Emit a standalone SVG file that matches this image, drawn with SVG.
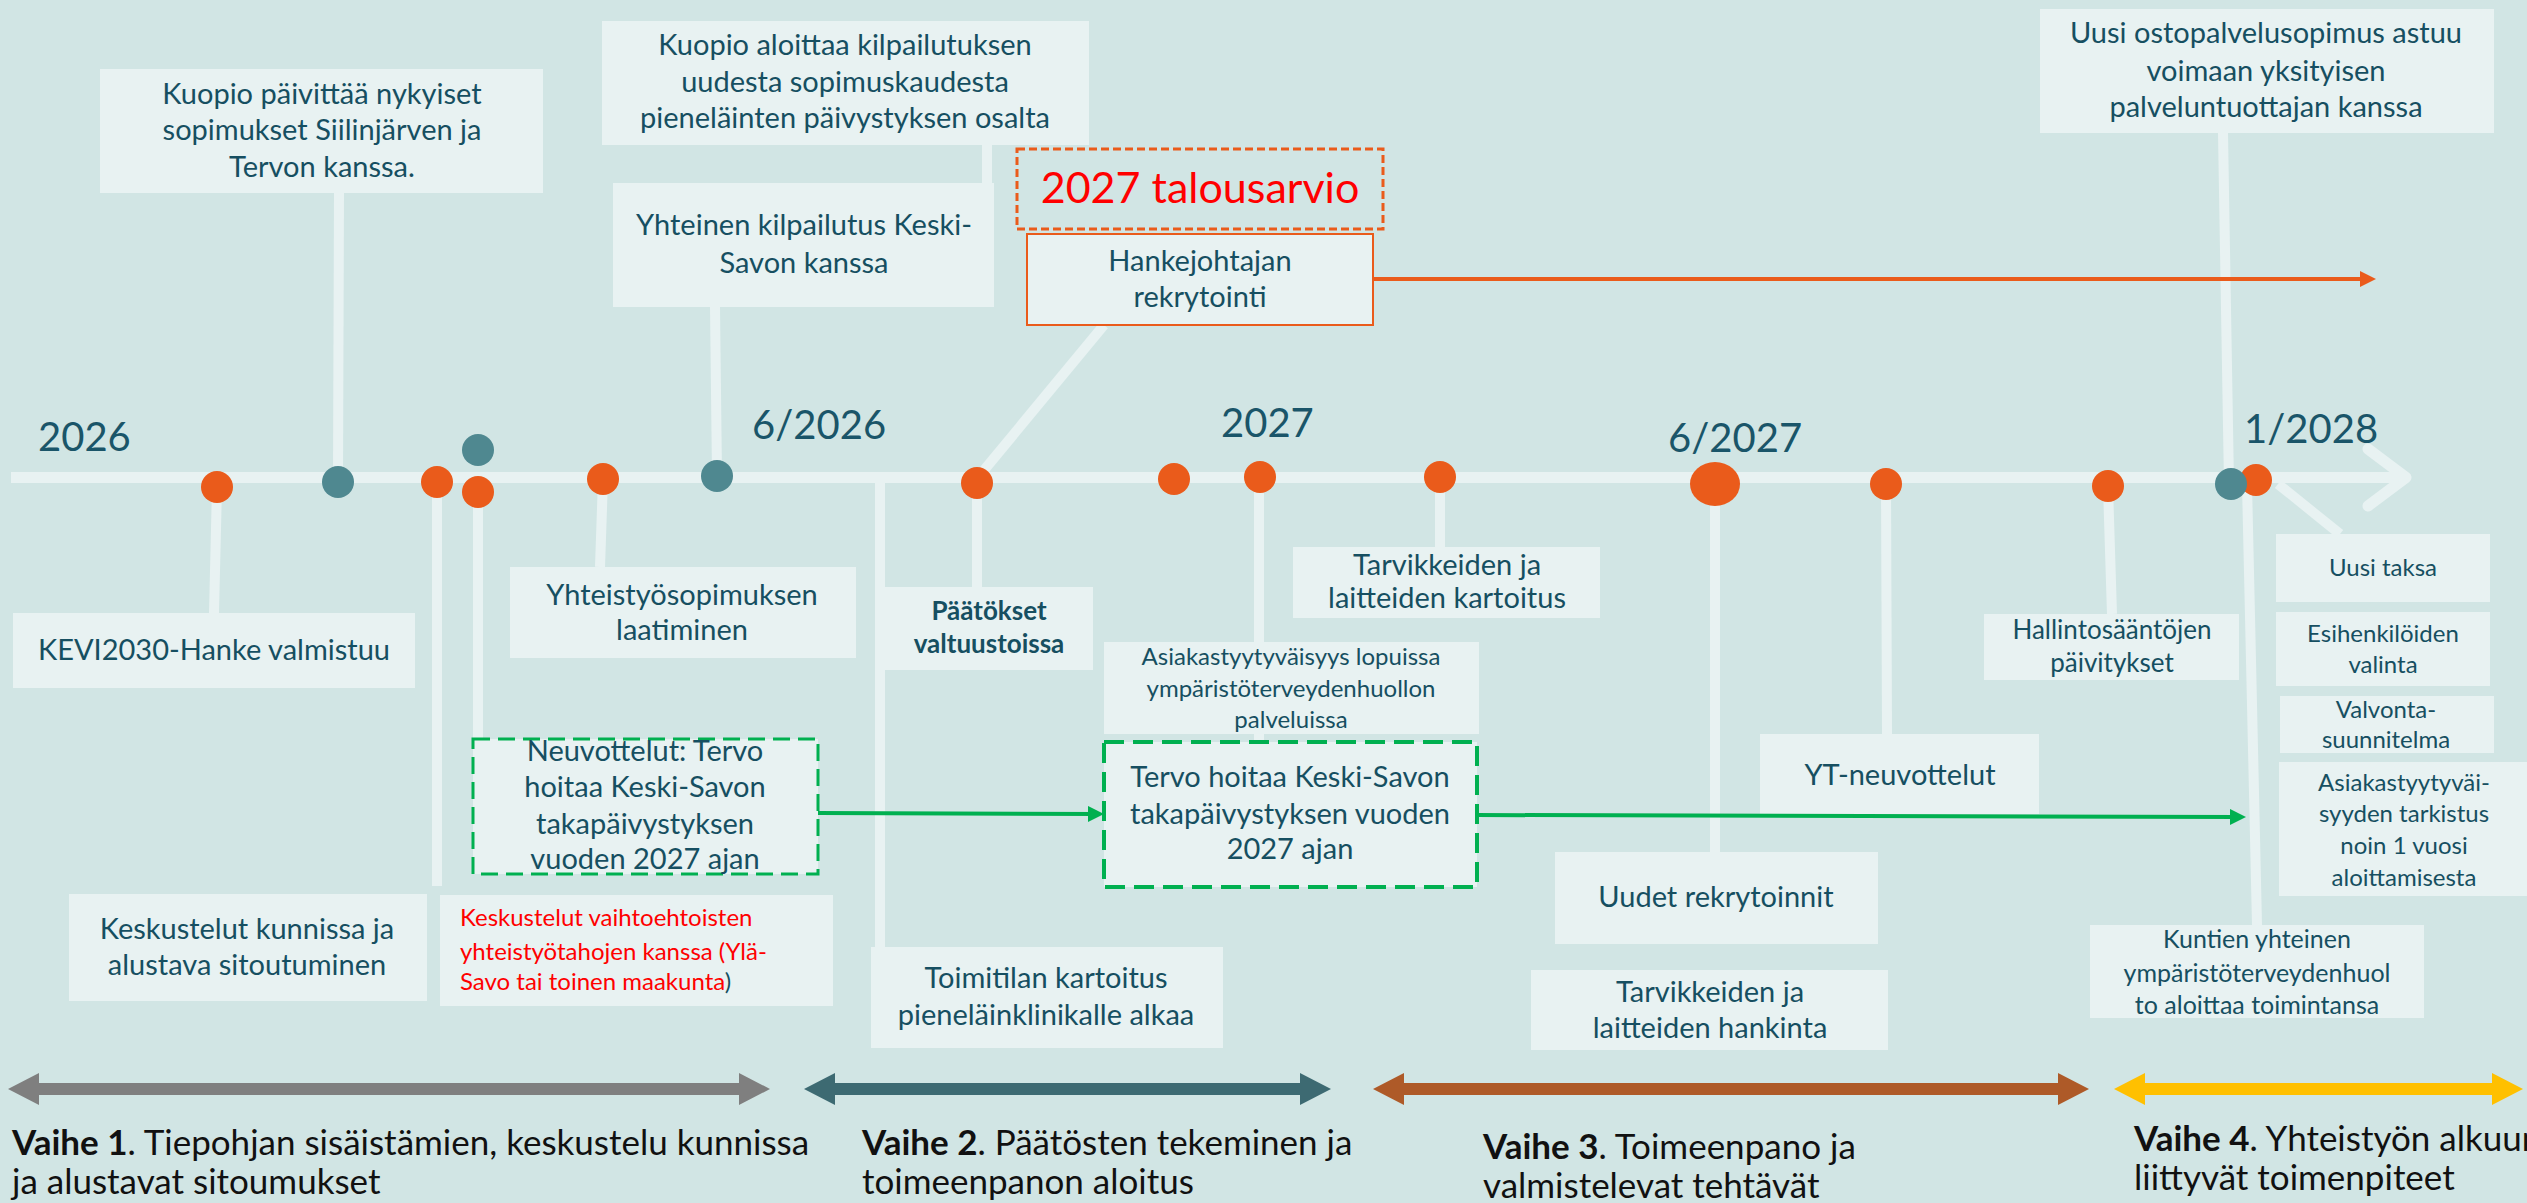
<svg xmlns="http://www.w3.org/2000/svg" width="2527" height="1203" viewBox="0 0 2527 1203">
<defs>
<style>
.bx{fill:#E8F2F2}
.t{font-family:Lato,"Open Sans",sans-serif;font-size:29px;fill:#164F61;text-anchor:middle}
.s{font-size:24px}
.yr{font-family:Lato,"Open Sans",sans-serif;font-size:40px;fill:#1A5569}
.ph{font-family:Lato,"Open Sans",sans-serif;font-size:35px;fill:#111}
.conn{stroke:#E8F2F2;stroke-width:10;fill:none}
.dO{fill:#EA5B1B}
.dT{fill:#4F8890}
.gd{fill:#E8F2F2;stroke:#00B050;stroke-width:3;stroke-dasharray:17 8}
</style>
<marker id="ahO" markerWidth="16" markerHeight="16" refX="8" refY="8" orient="auto" markerUnits="userSpaceOnUse"><path d="M0,0 L16,8 L0,16 z" fill="#EA5B1B"/></marker>
<marker id="ahG" markerWidth="16" markerHeight="16" refX="8" refY="8" orient="auto" markerUnits="userSpaceOnUse"><path d="M0,0 L16,8 L0,16 z" fill="#00B050"/></marker>
</defs>
<rect width="2527" height="1203" fill="#D1E5E4"/>

<g id="connectors">
<line class="conn" x1="217" y1="487" x2="214" y2="613"/>
<line class="conn" x1="339" y1="193" x2="338" y2="482"/>
<line class="conn" x1="437" y1="482" x2="437" y2="886"/>
<line class="conn" x1="478" y1="492" x2="478" y2="739"/>
<line class="conn" x1="603" y1="479" x2="600" y2="567"/>
<line class="conn" x1="715" y1="307" x2="717" y2="476"/>
<line class="conn" x1="987" y1="145" x2="987" y2="183"/>
<line class="conn" x1="880" y1="478" x2="880" y2="947"/>
<line class="conn" x1="977" y1="483" x2="977" y2="587"/>
<line class="conn" x1="1104" y1="325" x2="980" y2="475"/>
<line class="conn" x1="1259" y1="477" x2="1259" y2="742"/>
<line class="conn" x1="1440" y1="477" x2="1440" y2="547"/>
<line class="conn" x1="1715" y1="484" x2="1715" y2="852"/>
<line class="conn" x1="1886" y1="484" x2="1887" y2="734"/>
<line class="conn" x1="2108" y1="486" x2="2112" y2="614"/>
<line class="conn" x1="2223" y1="133" x2="2229" y2="484"/>
<line class="conn" x1="2247" y1="484" x2="2257" y2="925"/>
<line class="conn" x1="2278" y1="484" x2="2340" y2="534"/>
</g>

<g id="timeline">
<line x1="11" y1="477.5" x2="2402" y2="477.5" stroke="#E8F2F2" stroke-width="11"/>
<polyline points="2368,449 2406,477.5 2368,506" fill="none" stroke="#E8F2F2" stroke-width="11" stroke-linecap="round" stroke-linejoin="round"/>
<text class="yr" x="38" y="451">2026</text>
<text class="yr" x="752" y="439">6/2026</text>
<text class="yr" x="1221" y="437">2027</text>
<text class="yr" x="1668" y="452">6/2027</text>
<text class="yr" x="2244" y="443">1/2028</text>
</g>

<g id="phases">
<polygon fill="#7F7F7F" points="8,1089 39,1073 39,1083 739,1083 739,1073 770,1089 739,1105 739,1095 39,1095 39,1105"/>
<polygon fill="#3D6A72" points="804,1089 835,1073 835,1083 1300,1083 1300,1073 1331,1089 1300,1105 1300,1095 835,1095 835,1105"/>
<polygon fill="#AE5A28" points="1373,1089 1404,1073 1404,1083 2058,1083 2058,1073 2089,1089 2058,1105 2058,1095 1404,1095 1404,1105"/>
<polygon fill="#FFC000" points="2114,1089 2145,1073 2145,1083 2492,1083 2492,1073 2523,1089 2492,1105 2492,1095 2145,1095 2145,1105"/>
<text class="ph" x="12" y="1155"><tspan font-weight="bold">Vaihe 1</tspan>.  Tiepohjan sisäistämien, keskustelu kunnissa</text>
<text class="ph" x="12" y="1194">ja alustavat sitoumukset</text>
<text class="ph" x="862" y="1155"><tspan font-weight="bold">Vaihe 2</tspan>. Päätösten tekeminen ja</text>
<text class="ph" x="862" y="1194">toimeenpanon aloitus</text>
<text class="ph" x="1483" y="1159"><tspan font-weight="bold">Vaihe 3</tspan>. Toimeenpano ja</text>
<text class="ph" x="1483" y="1198">valmistelevat tehtävät</text>
<text class="ph" x="2134" y="1151"><tspan font-weight="bold">Vaihe 4</tspan>. Yhteistyön alkuun</text>
<text class="ph" x="2134" y="1190">liittyvät toimenpiteet</text>
</g>

<g id="nA"><rect class="bx" x="100" y="69" width="443" height="124"/>
<text class="t" x="322" y="104">Kuopio päivittää nykyiset</text><text class="t" x="322" y="140">sopimukset Siilinjärven ja</text><text class="t" x="322" y="177">Tervon kanssa.</text></g>
<g id="nB"><rect class="bx" x="602" y="21" width="487" height="124"/>
<text class="t" x="845" y="55">Kuopio aloittaa kilpailutuksen</text><text class="t" x="845" y="92">uudesta sopimuskaudesta</text><text class="t" x="845" y="128">pieneläinten päivystyksen osalta</text></g>
<g id="nC"><rect class="bx" x="613" y="183" width="381" height="124"/>
<text class="t" x="804" y="235">Yhteinen kilpailutus Keski-</text><text class="t" x="804" y="273">Savon kanssa</text></g>
<g id="nD"><rect x="1017" y="149" width="366" height="80" fill="none" stroke="#EA5B1B" stroke-width="3" stroke-dasharray="8 4"/>
<text class="t" x="1200" y="203" style="font-size:43px;fill:#FF0000">2027 talousarvio</text></g>
<g id="nE"><rect x="1027" y="234" width="346" height="91" fill="#E8F2F2" stroke="#EA5B1B" stroke-width="2"/>
<text class="t" x="1200" y="271">Hankejohtajan</text><text class="t" x="1200" y="307">rekrytointi</text></g>
<g id="nF"><rect class="bx" x="2040" y="9" width="454" height="124"/>
<text class="t" x="2266" y="43">Uusi ostopalvelusopimus astuu</text><text class="t" x="2266" y="81">voimaan yksityisen</text><text class="t" x="2266" y="117">palveluntuottajan kanssa</text></g>
<g id="nG"><rect class="bx" x="13" y="613" width="402" height="75"/>
<text class="t" x="214" y="660">KEVI2030-Hanke valmistuu</text></g>
<g id="nH"><rect class="bx" x="510" y="567" width="346" height="91"/>
<text class="t" x="682" y="605">Yhteistyösopimuksen</text><text class="t" x="682" y="640">laatiminen</text></g>
<g id="nI"><rect class="bx" x="885" y="587" width="208" height="83"/>
<text class="t" x="989" y="620" font-weight="bold" style="font-size:26px">Päätökset</text><text class="t" x="989" y="653" font-weight="bold" style="font-size:26px">valtuustoissa</text></g>
<g id="nJ"><rect class="bx" x="871" y="947" width="352" height="101"/>
<text class="t" x="1046" y="988">Toimitilan kartoitus</text><text class="t" x="1046" y="1025">pieneläinklinikalle alkaa</text></g>
<g id="nK"><rect class="bx" x="69" y="894" width="358" height="107"/>
<text class="t" x="247" y="939">Keskustelut kunnissa ja</text><text class="t" x="247" y="975">alustava sitoutuminen</text></g>
<g id="nL"><rect class="bx" x="440" y="895" width="393" height="111"/>
<text class="t" x="460" y="926" style="font-size:24px;fill:#FF0000;text-anchor:start">Keskustelut vaihtoehtoisten</text>
<text class="t" x="460" y="960" style="font-size:24px;fill:#FF0000;text-anchor:start">yhteistyötahojen kanssa (Ylä-</text>
<text class="t" x="460" y="990" style="font-size:24px;fill:#FF0000;text-anchor:start">Savo tai toinen maakunta<tspan fill="#164F61">)</tspan></text></g>
<g id="nM"><rect class="gd" x="473" y="739" width="345" height="135"/>
<text class="t" x="645" y="761">Neuvottelut: Tervo</text><text class="t" x="645" y="797">hoitaa Keski-Savon</text><text class="t" x="645" y="834">takapäivystyksen</text><text class="t" x="645" y="869">vuoden 2027 ajan</text></g>
<g id="nN"><rect class="gd" x="1104" y="742" width="373" height="145" style="stroke-width:4;stroke-dasharray:20 9"/>
<text class="t" x="1290" y="787">Tervo hoitaa Keski-Savon</text><text class="t" x="1290" y="824">takapäivystyksen vuoden</text><text class="t" x="1290" y="859">2027 ajan</text></g>
<g id="nO"><rect class="bx" x="1104" y="642" width="375" height="92"/>
<text class="t s" x="1291" y="665">Asiakastyytyväisyys lopuissa</text><text class="t s" x="1291" y="697">ympäristöterveydenhuollon</text><text class="t s" x="1291" y="728">palveluissa</text></g>
<g id="nP"><rect class="bx" x="1293" y="547" width="307" height="71"/>
<text class="t" x="1447" y="575">Tarvikkeiden ja</text><text class="t" x="1447" y="608">laitteiden kartoitus</text></g>
<g id="nQ"><rect class="bx" x="1555" y="852" width="323" height="92"/>
<text class="t" x="1716" y="907">Uudet rekrytoinnit</text></g>
<g id="nR"><rect class="bx" x="1531" y="970" width="357" height="80"/>
<text class="t" x="1710" y="1002">Tarvikkeiden ja</text><text class="t" x="1710" y="1038">laitteiden hankinta</text></g>
<g id="nS"><rect class="bx" x="1760" y="734" width="279" height="80"/>
<text class="t" x="1900" y="785">YT-neuvottelut</text></g>
<g id="nT"><rect class="bx" x="1984" y="614" width="255" height="66"/>
<text class="t" x="2112" y="639" style="font-size:26px">Hallintosääntöjen</text><text class="t" x="2112" y="672" style="font-size:26px">päivitykset</text></g>
<g id="nU"><rect class="bx" x="2276" y="534" width="214" height="68"/>
<text class="t s" x="2383" y="576">Uusi taksa</text></g>
<g id="nV"><rect class="bx" x="2276" y="612" width="214" height="74"/>
<text class="t s" x="2383" y="642">Esihenkilöiden</text><text class="t s" x="2383" y="673">valinta</text></g>
<g id="nW"><rect class="bx" x="2280" y="696" width="214" height="57"/>
<text class="t s" x="2386" y="718">Valvonta-</text><text class="t s" x="2386" y="748">suunnitelma</text></g>
<g id="nX"><rect class="bx" x="2279" y="762" width="260" height="134"/>
<text class="t s" x="2404" y="791">Asiakastyytyväi-</text><text class="t s" x="2404" y="822">syyden tarkistus</text><text class="t s" x="2404" y="854">noin 1 vuosi</text><text class="t s" x="2404" y="886">aloittamisesta</text></g>
<g id="nY"><rect class="bx" x="2090" y="925" width="334" height="93"/>
<text class="t" x="2257" y="948" style="font-size:25px">Kuntien yhteinen</text><text class="t" x="2257" y="982" style="font-size:25px">ympäristöterveydenhuol</text><text class="t" x="2257" y="1014" style="font-size:25px">to aloittaa toimintansa</text></g>

<g id="arrows">
<line x1="1373" y1="279" x2="2368" y2="279" stroke="#EA5B1B" stroke-width="4" marker-end="url(#ahO)"/>
<line x1="818" y1="813" x2="1096" y2="814" stroke="#00B050" stroke-width="4" marker-end="url(#ahG)"/>
<line x1="1477" y1="815" x2="2238" y2="817" stroke="#00B050" stroke-width="4" marker-end="url(#ahG)"/>
</g>

<g id="dots">
<circle class="dO" cx="217" cy="487" r="16"/>
<circle class="dT" cx="338" cy="482" r="16"/>
<circle class="dO" cx="437" cy="482" r="16"/>
<circle class="dT" cx="478" cy="450" r="16"/>
<circle class="dO" cx="478" cy="492" r="16"/>
<circle class="dO" cx="603" cy="479" r="16"/>
<circle class="dT" cx="717" cy="476" r="16"/>
<circle class="dO" cx="977" cy="483" r="16"/>
<circle class="dO" cx="1174" cy="479" r="16"/>
<circle class="dO" cx="1260" cy="477" r="16"/>
<circle class="dO" cx="1440" cy="477" r="16"/>
<ellipse class="dO" cx="1715" cy="484" rx="25" ry="22"/>
<circle class="dO" cx="1886" cy="484" r="16"/>
<circle class="dO" cx="2108" cy="486" r="16"/>
<circle class="dO" cx="2256" cy="480" r="16"/>
<circle class="dT" cx="2231" cy="484" r="16"/>
</g>
</svg>
